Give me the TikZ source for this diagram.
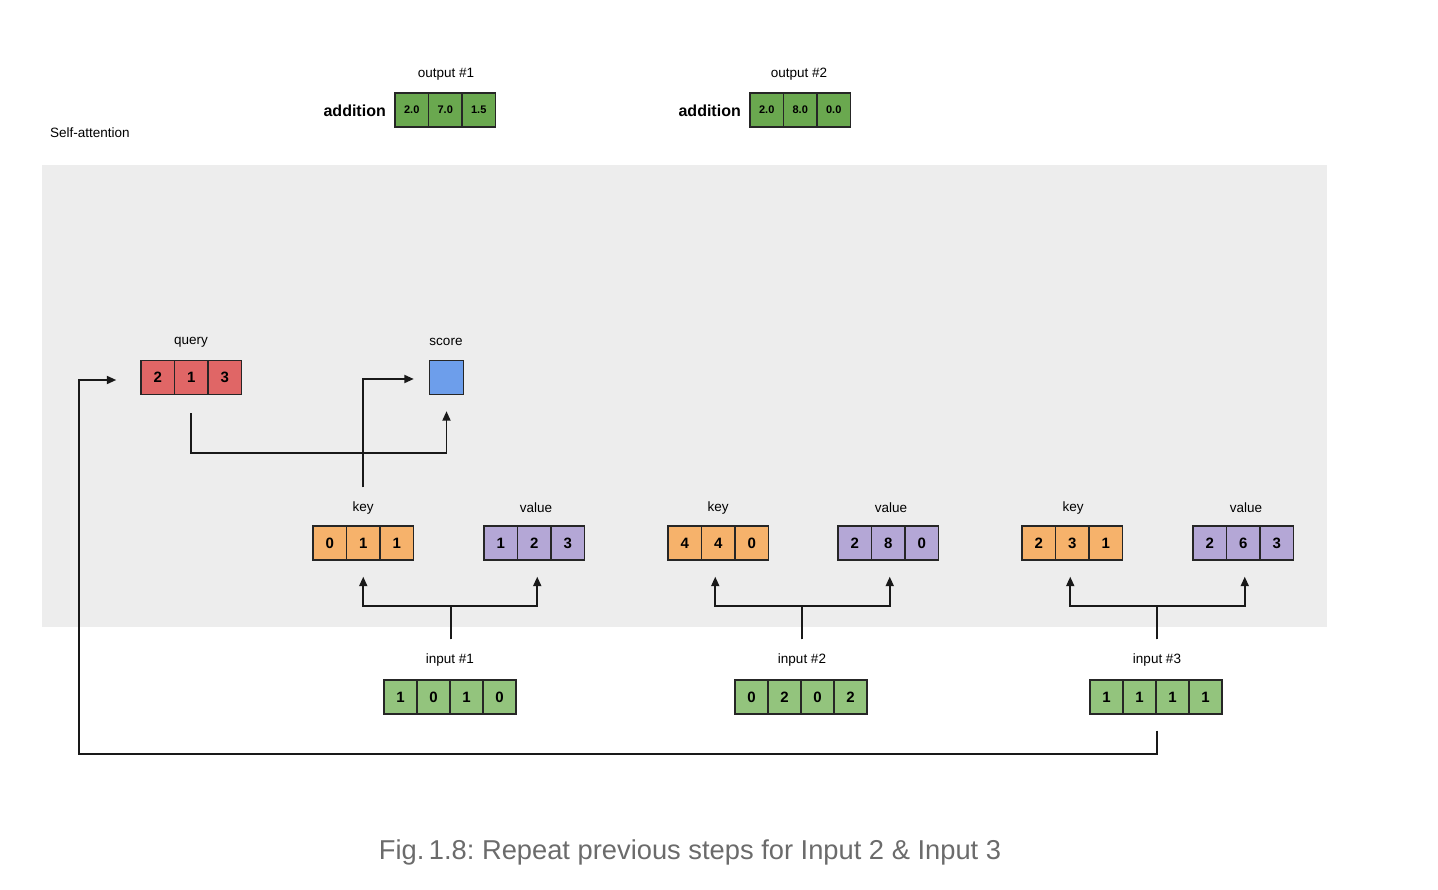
\documentclass[tikz,border=0pt]{standalone}
\usepackage{fontspec}
\setmainfont{Liberation Sans}
\usetikzlibrary{arrows.meta}
\frenchspacing
\definecolor{bggray}{HTML}{EDEDED}
\definecolor{qred}{HTML}{E06666}
\definecolor{korange}{HTML}{F6B26B}
\definecolor{vpurple}{HTML}{B4A7D6}
\definecolor{sblue}{HTML}{6D9EEB}
\definecolor{igreen}{HTML}{93C47D}
\definecolor{ogreen}{HTML}{6AA84F}
\definecolor{capgray}{HTML}{6B6B6B}
\tikzset{
  cell/.style={draw=black!85, line width=1.4pt, minimum width=33.5pt, minimum height=34pt, inner sep=0pt, font=\bfseries\fontsize{15}{18}\selectfont},
  ocell/.style={cell, fill=ogreen, font=\bfseries\fontsize{11}{13}\selectfont},
  qcell/.style={cell, fill=qred},
  kcell/.style={cell, fill=korange},
  vcell/.style={cell, fill=vpurple},
  icell/.style={cell, fill=igreen, minimum width=33pt},
  lbl/.style={font=\fontsize{13.5}{16}\selectfont, inner sep=0pt},
  addlbl/.style={font=\bfseries\fontsize{16}{19}\selectfont, inner sep=0pt},
  conn/.style={line width=1.9pt, draw=black!90},
  arr/.style={conn, -{Triangle[length=9.5pt,width=8pt]}},
}
\newcommand\vecrow[6]{%
  \foreach \v [count=\i] in {#6} {\node[#4] (#1-\i) at ({#2+(\i-0.5)*#5},#3) {\v};}}
\begin{document}
\begin{tikzpicture}[x=1pt,y=-1pt]
\useasboundingbox (0,0) rectangle (1438,890);
\fill[bggray] (42,165) rectangle (1327,627);
\node[lbl, anchor=west] (title) at (50,133) {Self-attention};

% outputs
\node[lbl] (o1lbl) at (446,74) {output \#1};
\node[addlbl, anchor=east] (add1) at (386,111) {addition};
\vecrow{o1}{395}{110}{ocell}{33.5}{2.0,7.0,1.5}
\node[lbl] (o2lbl) at (799,74) {output \#2};
\node[addlbl, anchor=east] (add2) at (741,111) {addition};
\vecrow{o2}{750}{110}{ocell}{33.5}{2.0,8.0,0.0}

% query and score
\node[lbl] (qlbl) at (191,342) {query};
\vecrow{q}{141}{377.5}{qcell}{33.5}{2,1,3}
\node[lbl] (slbl) at (446,342) {score};
\node[cell, fill=sblue, minimum width=34pt] (score) at (446.5,377.5) {};

% keys and values
\node[lbl] (k1lbl) at (363,508) {key};
\vecrow{k1}{313}{543}{kcell}{33.5}{0,1,1}
\node[lbl] (v1lbl) at (536,508) {value};
\vecrow{v1}{484}{543}{vcell}{33.5}{1,2,3}
\node[lbl] (k2lbl) at (718,508) {key};
\vecrow{k2}{668}{543}{kcell}{33.5}{4,4,0}
\node[lbl] (v2lbl) at (891,508) {value};
\vecrow{v2}{838}{543}{vcell}{33.5}{2,8,0}
\node[lbl] (k3lbl) at (1073,508) {key};
\vecrow{k3}{1022}{543}{kcell}{33.5}{2,3,1}
\node[lbl] (v3lbl) at (1246,508) {value};
\vecrow{v3}{1193}{543}{vcell}{33.5}{2,6,3}

% inputs
\node[lbl] (i1lbl) at (450,660) {input \#1};
\vecrow{i1}{384}{697}{icell}{33}{1,0,1,0}
\node[lbl] (i2lbl) at (802,660) {input \#2};
\vecrow{i2}{735}{697}{icell}{33}{0,2,0,2}
\node[lbl] (i3lbl) at (1157,660) {input \#3};
\vecrow{i3}{1090}{697}{icell}{33}{1,1,1,1}

% input -> key / value
\draw[arr] ([yshift=40pt]i1-2.north east) -- ++(0,-33) -| ([yshift=-16pt]k1-2.south);
\draw[arr] ([yshift=40pt]i1-2.north east) -- ++(0,-33) -| ([xshift=3pt,yshift=-16pt]v1-2.south);
\draw[arr] ([yshift=40pt]i2-2.north east) -- ++(0,-33) -| ([xshift=-3pt,yshift=-16pt]k2-2.south);
\draw[arr] ([yshift=40pt]i2-2.north east) -- ++(0,-33) -| ([xshift=1.5pt,yshift=-16pt]v2-2.south);
\draw[arr] ([yshift=40pt]i3-2.north east) -- ++(0,-33) -| ([xshift=-2pt,yshift=-16pt]k3-2.south);
\draw[arr] ([yshift=40pt]i3-2.north east) -- ++(0,-33) -| ([xshift=1.5pt,yshift=-16pt]v3-2.south);

% query -> score, key -> score
\draw[arr] ([yshift=-18pt]q-2.south) -- ++(0,40) -| ([yshift=-16pt]score.south);
\draw[arr] ([yshift=38pt]k1-2.north) |- ([xshift=-15pt,yshift=-1.5pt]score.west);

% feedback from input 3 to query
\coordinate (fb) at (79,754);
\draw[arr] ([yshift=-16pt]i3-2.south east) |- (fb) |- ([xshift=-24pt,yshift=-2.5pt]q-1.west);

% caption
\node[font=\fontsize{27.3}{32}\selectfont, text=capgray, inner sep=0pt] (cap) at (690,852) {Fig.\,1.8: Repeat previous steps for Input 2 \& Input 3};
\end{tikzpicture}
\end{document}
